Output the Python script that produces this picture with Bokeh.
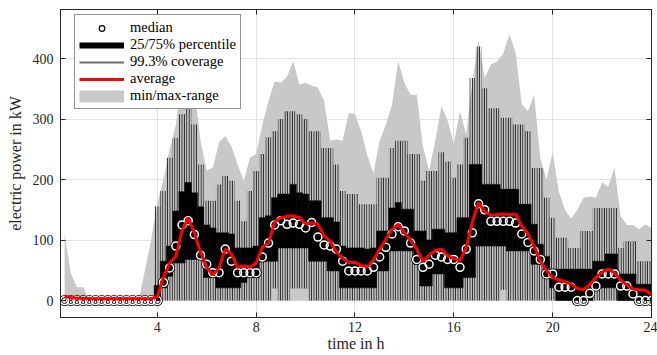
import numpy as np
from bokeh.plotting import figure
from bokeh.models import (ColumnDataSource, Range1d, FixedTicker, LinearAxis,
                          Legend, LegendItem)
from bokeh.embed import file_html
from bokeh.resources import INLINE

# time of day in hours (15-minute slots)
hours = np.arange(1, 97) / 4.0

# min / max range (kW)
min_kw = [0] * 96
max_kw = [110, 45, 22, 22, 0, 0, 0, 0, 0, 0, 0, 0, 0, 50, 100, 160,
          200, 250, 290, 370, 390, 350, 264, 215, 220, 262, 272, 255, 225, 198, 236, 242,
          290, 330, 362, 360, 370, 396, 357, 360, 355, 352, 330, 264, 266, 264, 310, 308,
          280, 240, 210, 265, 290, 324, 396, 360, 340, 340, 255, 215, 264, 322, 297, 259,
          313, 275, 360, 430, 368, 390, 395, 408, 440, 410, 325, 313, 340, 235, 200, 245,
          180, 150, 135, 150, 170, 172, 170, 195, 188, 220, 140, 125, 125, 118, 126, 120]
# 99.3 % coverage (whiskers)
cov_lo = [0] * 34 + [20, 0, 0, 20, 20, 20] + [0] * 31 + [18] + [0] * 24
cov_hi = [0] * 15 + [156,
          181, 236, 269, 308, 330, 291, 225, 165, 165, 192, 206, 198, 165, 131, 181, 214,
          242, 270, 280, 300, 313, 313, 308, 300, 280, 280, 252, 252, 225, 181, 176, 176,
          159, 159, 159, 203, 203, 252, 264, 264, 242, 242, 198, 214, 214, 245, 230, 203,
          225, 269, 368, 420, 351, 318, 318, 302, 302, 291, 291, 280, 219, 219, 170, 137,
          104, 104, 87, 87, 115, 115, 153, 153, 153, 153, 87, 98, 98, 65, 65, 65]
# 25 / 75 % percentiles
q25_kw = [0] * 16 + [
          21, 40, 62, 62, 68, 68, 68, 38, 38, 21, 21, 21, 21, 30, 38, 38,
          65, 65, 65, 87, 87, 87, 87, 87, 65, 65, 65, 49, 49, 21, 21, 21,
          21, 21, 21, 49, 49, 82, 82, 82, 82, 60, 24, 24, 44, 44, 21, 21,
          21, 38, 38, 90, 90, 90, 90, 90, 82, 82, 82, 82, 60, 60, 38, 21,
          0, 0, 0, 0, 0, 0, 21, 21, 21, 21, 0, 0, 0, 0, 0, 0]
q75_kw = [0] * 15 + [25,
          65, 90, 148, 180, 195, 178, 155, 125, 120, 112, 112, 110, 87, 87, 87, 90,
          137, 140, 170, 176, 176, 192, 178, 176, 165, 165, 137, 137, 130, 90, 87, 87,
          87, 85, 87, 115, 115, 153, 162, 151, 151, 115, 115, 100, 118, 118, 112, 112,
          137, 137, 225, 225, 192, 192, 192, 184, 184, 184, 159, 159, 126, 93, 73, 52,
          52, 52, 52, 52, 52, 52, 65, 65, 77, 77, 44, 44, 44, 27, 27, 27]
# median
median_kw = [0] * 16 + [
          30, 54, 90, 125, 132, 109, 75, 60, 46, 46, 85, 65, 46, 46, 46, 46,
          72, 95, 125, 132, 126, 128, 126, 120, 129, 105, 92, 90, 85, 65, 49, 49,
          49, 49, 55, 72, 88, 110, 122, 115, 95, 68, 55, 60, 75, 72, 68, 68,
          55, 85, 112, 160, 150, 131, 131, 131, 131, 128, 110, 96, 82, 68, 44, 44,
          22, 22, 22, 0, 0, 12, 24, 44, 44, 44, 24, 24, 11, 0, 0, 0]
# average
mean_kw = [7, 5, 4, 4, 3, 3, 3, 3, 3, 3, 3, 3, 3, 3, 3, 6,
           38, 62, 73, 115, 137, 112, 80, 55, 42, 54, 85, 77, 55, 57, 55, 62,
           88, 95, 130, 137, 139, 140, 137, 127, 128, 126, 107, 98, 80, 70, 63, 63,
           58, 56, 67, 85, 101, 118, 126, 112, 100, 85, 65, 75, 83, 85, 74, 69,
           66, 87, 130, 162, 147, 141, 142, 143, 142, 143, 123, 110, 90, 65, 50, 38,
           34, 31, 27, 20, 18, 26, 38, 47, 52, 46, 34, 26, 19, 18, 17, 10]

x_ticks = [4, 8, 12, 16, 20, 24]
y_ticks = [0, 100, 200, 300, 400]
legend_labels = ["median", "25/75% percentile", "99.3% coverage", "average", "min/max-range"]

src = ColumnDataSource(dict(t=hours, mn=min_kw, mx=max_kw, lo=cov_lo, hi=cov_hi,
                            q25=q25_kw, q75=q75_kw, med=median_kw, avg=mean_kw))

AX = "#262626"
FONT = "Liberation Serif"

p = figure(width=657, height=355, x_range=Range1d(1 / 12, 24), y_range=Range1d(-28, 481),
           output_backend="svg", toolbar_location=None,
           min_border_left=60, min_border_right=6, min_border_top=9, min_border_bottom=38)
p.outline_line_color = AX
p.outline_line_width = 1
p.background_fill_color = "white"
p.border_fill_color = "white"

r_rng = p.varea(x="t", y1="mn", y2="mx", source=src, fill_color="#c8c8c8")
r_cov = p.vbar(x="t", bottom="lo", top="hi", width=0.25, source=src, fill_alpha=0,
               line_color=None, hatch_pattern="|", hatch_color="#1e1e1e",
               hatch_scale=2.4, hatch_weight=1.4)
r_box = p.vbar(x="t", bottom="q25", top="q75", width=0.255, source=src,
               fill_color="black", line_color="black", line_width=0.5)
r_med1 = p.scatter(x="t", y="med", source=src, size=8, marker="circle", fill_alpha=0,
                   line_color="black", line_width=3)
r_med2 = p.scatter(x="t", y="med", source=src, size=8, marker="circle", fill_alpha=0,
                   line_color="white", line_width=1.5)
r_avg = p.line(x="t", y="avg", source=src, line_color="red", line_width=3)

# legend glyph renderers (placed outside the visible range)
off_x = [-5, -4]
off_y = [-100, -100]
lg_med = p.scatter(x=off_x, y=off_y, size=10, marker="circle", fill_color="white",
                   line_color="black", line_width=1.2)
lg_box = p.line(x=off_x, y=off_y, line_color="black", line_width=6)
lg_cov = p.line(x=off_x, y=off_y, line_color="#6e6e6e", line_width=2)
lg_avg = p.line(x=off_x, y=off_y, line_color="red", line_width=3)
lg_rng = p.line(x=off_x, y=off_y, line_color="#c8c8c8", line_width=12)

legend = Legend(items=[LegendItem(label=legend_labels[0], renderers=[lg_med]),
                       LegendItem(label=legend_labels[1], renderers=[lg_box]),
                       LegendItem(label=legend_labels[2], renderers=[lg_cov]),
                       LegendItem(label=legend_labels[3], renderers=[lg_avg]),
                       LegendItem(label=legend_labels[4], renderers=[lg_rng])],
                location=(14, 208), glyph_width=45, glyph_height=14, label_height=14,
                label_text_font=FONT, label_text_font_size="14.5px",
                label_text_color="black", spacing=0, padding=4, margin=0,
                label_standoff=6, border_line_color=AX, border_line_width=1,
                background_fill_alpha=1)
p.add_layout(legend)

for ax in (p.xaxis[0], p.yaxis[0]):
    ax.major_tick_in = 5
    ax.major_tick_out = 0
    ax.minor_tick_line_color = None
    ax.axis_line_color = AX
    ax.major_tick_line_color = AX
    ax.major_label_text_font = FONT
    ax.major_label_text_font_size = "14px"
    ax.major_label_text_color = AX
    ax.axis_label_text_font = FONT
    ax.axis_label_text_font_size = "16px"
    ax.axis_label_text_font_style = "normal"
    ax.axis_label_text_color = AX

p.xaxis[0].ticker = FixedTicker(ticks=x_ticks)
p.yaxis[0].ticker = FixedTicker(ticks=y_ticks)
p.xaxis[0].axis_label = "time in h"
p.yaxis[0].axis_label = "electric power in kW"
p.xaxis[0].major_label_standoff = 4
p.xaxis[0].axis_label_standoff = 0
p.yaxis[0].major_label_standoff = 7
p.yaxis[0].axis_label_standoff = 6

ax_top = LinearAxis(ticker=FixedTicker(ticks=x_ticks),
                    major_label_overrides={t: "" for t in x_ticks},
                    major_tick_in=5, major_tick_out=0, minor_tick_line_color=None,
                    axis_line_color=AX, major_tick_line_color=AX, major_label_standoff=0)
ax_right = LinearAxis(ticker=FixedTicker(ticks=y_ticks),
                      major_label_overrides={t: "" for t in y_ticks},
                      major_tick_in=5, major_tick_out=0, minor_tick_line_color=None,
                      axis_line_color=AX, major_tick_line_color=AX, major_label_standoff=0)
p.add_layout(ax_top, "above")
p.add_layout(ax_right, "right")

p.xgrid.ticker = FixedTicker(ticks=x_ticks)
p.ygrid.ticker = FixedTicker(ticks=y_ticks)
p.xgrid.grid_line_color = "#e3e3e3"
p.ygrid.grid_line_color = "#e3e3e3"

open("out.html", "w").write(file_html(p, INLINE))
